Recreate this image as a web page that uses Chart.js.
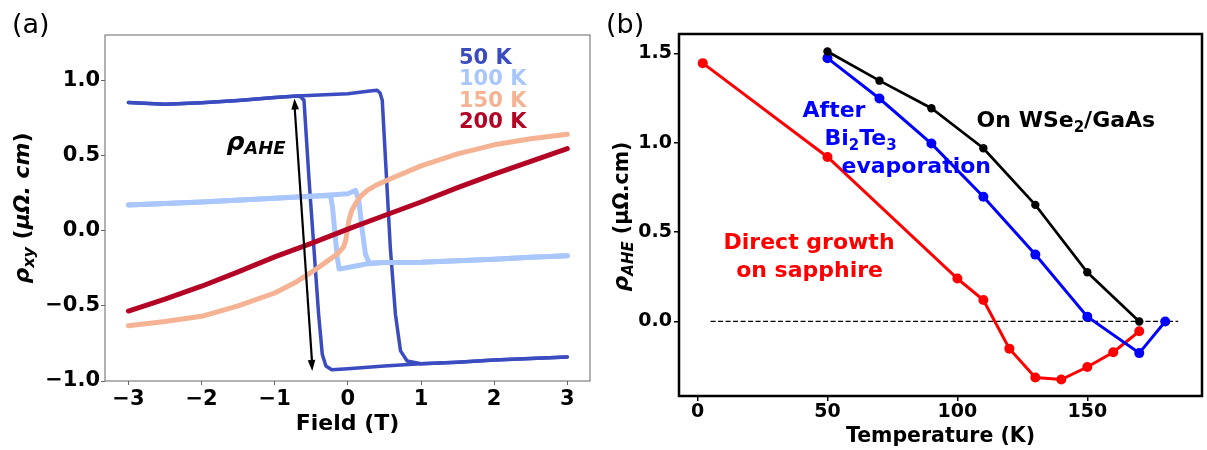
<!DOCTYPE html>
<html>
<head>
<meta charset="utf-8">
<script src="https://cdn.jsdelivr.net/npm/chart.js@4.4.1/dist/chart.umd.min.js"></script>
<style>
  html, body { margin: 0; padding: 0; background: #fff; }
  #wrap { position: relative; width: 1207px; height: 450px; overflow: hidden; }
  canvas { position: absolute; top: 0; }
</style>
</head>
<body>
<div id="wrap">
  <canvas id="hallChart" width="600" height="450" style="left:0px"></canvas>
  <canvas id="aheChart" width="607" height="450" style="left:600px"></canvas>
</div>
<script>
const FONT = 'DejaVu Sans';

// ---- (a) Hall loops, field in T, rho_xy in uOhm.cm ----
const field50Up = [-3, -2.5, -2, -1.5, -1, -0.7, 0, 0.3, 0.4, 0.44, 0.47, 0.53, 0.58, 0.65, 0.72, 0.81, 1, 1.5, 2, 2.5, 3];
const rho50Up   = [0.851, 0.84, 0.85, 0.865, 0.885, 0.895, 0.91, 0.928, 0.933, 0.915, 0.867, 0.333, -0.111, -0.556, -0.8, -0.867, -0.885, -0.875, -0.86, -0.85, -0.84];
const field50Down = [3, 2.5, 2, 1.5, 1, 0.5, 0, -0.22, -0.3, -0.35, -0.4, -0.465, -0.53, -0.6, -0.65, -0.69, -1, -1.5, -2, -2.5, -3];
const rho50Down   = [-0.84, -0.85, -0.86, -0.875, -0.885, -0.9, -0.918, -0.925, -0.9, -0.822, -0.556, -0.111, 0.333, 0.867, 0.89, 0.895, 0.885, 0.865, 0.85, 0.84, 0.851];

const field100Up = [-3, -2, -1, -0.5, 0, 0.105, 0.15, 0.197, 0.24, 0.29, 0.5, 1, 1.5, 2, 2.5, 3];
const rho100Up   = [0.17, 0.19, 0.215, 0.228, 0.245, 0.267, 0.2, 0.0, -0.156, -0.215, -0.213, -0.21, -0.2, -0.19, -0.178, -0.167];
const field100Down = [3, 2.5, 2, 1.5, 1, 0.5, 0.25, 0, -0.12, -0.145, -0.18, -0.21, -0.237, -0.3, -0.5, -1, -2, -3];
const rho100Down   = [-0.167, -0.178, -0.19, -0.2, -0.21, -0.213, -0.222, -0.245, -0.256, -0.178, 0.0, 0.156, 0.233, 0.232, 0.228, 0.215, 0.19, 0.17];

const field150 = [-3, -2.5, -2, -1.5, -1, -0.7, -0.465, -0.3, -0.145, -0.06, -0.03, 0.014, 0.05, 0.105, 0.17, 0.265, 0.4, 0.584, 1, 1.5, 2, 2.5, 3];
const rho150   = [-0.633, -0.605, -0.57, -0.5, -0.415, -0.34, -0.267, -0.21, -0.156, -0.11, -0.067, 0.067, 0.13, 0.178, 0.225, 0.267, 0.305, 0.344, 0.43, 0.51, 0.57, 0.61, 0.64];

const field200 = [-3, -2.5, -2, -1.5, -1, -0.5, 0, 0.5, 1, 1.5, 2, 2.5, 3];
const rho200   = [-0.535, -0.455, -0.37, -0.275, -0.175, -0.085, 0.01, 0.1, 0.19, 0.285, 0.375, 0.46, 0.545];

const loopLabels = ['50 K', '100 K', '150 K', '200 K'];
const loopColors = ['#3b4cc0', '#aac7fd', '#f5b394', '#b40426'];

const fieldTicks = [-3, -2, -1, 0, 1, 2, 3];
const rhoTicks = [-1.0, -0.5, 0.0, 0.5, 1.0];

// double arrow marking rho_AHE (field, rho)
const arrowField = [-0.73, -0.487];
const arrowRho = [0.878, -0.933];

// ---- (b) rho_AHE vs temperature ----
const tempWSe2 = [50, 70, 90, 110, 130, 150, 170];
const aheWSe2  = [1.51, 1.347, 1.193, 0.969, 0.652, 0.275, 0.0];
const tempAfter = [50, 70, 90, 110, 130, 150, 170, 180];
const aheAfter  = [1.473, 1.247, 0.995, 0.698, 0.374, 0.027, -0.177, 0.0];
const tempDirect = [2, 50, 100, 110, 120, 130, 140, 150, 160, 170];
const aheDirect  = [1.445, 0.92, 0.24, 0.12, -0.152, -0.314, -0.325, -0.255, -0.172, -0.055];
const zeroT = [5, 185];
const zeroV = [0, 0];

const tempTicks = [0, 50, 100, 150];
const aheTicks = [0.0, 0.5, 1.0, 1.5];

function pts(xs, ys) {
  return xs.map((x, i) => ({ x: x, y: ys[i] }));
}
function minus(s) {
  return String(s).replace('-', '\u2212');
}

function richWidth(ctx, parts) {
  let w = 0;
  parts.forEach(p => { ctx.font = p.font; w += ctx.measureText(p.text).width; });
  return w;
}
function drawRich(ctx, x, y, parts, color, align) {
  let cx = x;
  if (align === 'center') cx = x - richWidth(ctx, parts) / 2;
  ctx.fillStyle = color;
  ctx.textAlign = 'left';
  ctx.textBaseline = 'alphabetic';
  parts.forEach(p => {
    ctx.font = p.font;
    ctx.fillText(p.text, cx, y + (p.dy || 0));
    cx += ctx.measureText(p.text).width;
  });
}
function drawRotated(ctx, x, y, parts, color) {
  ctx.save();
  ctx.translate(x, y);
  ctx.rotate(-Math.PI / 2);
  drawRich(ctx, 0, 0, parts, color, 'center');
  ctx.restore();
}
function arrowHead(ctx, x0, y0, x1, y1, len, half) {
  const a = Math.atan2(y1 - y0, x1 - x0);
  ctx.beginPath();
  ctx.moveTo(x1, y1);
  ctx.lineTo(x1 - len * Math.cos(a) + half * Math.sin(a), y1 - len * Math.sin(a) - half * Math.cos(a));
  ctx.lineTo(x1 - len * Math.cos(a) - half * Math.sin(a), y1 - len * Math.sin(a) + half * Math.cos(a));
  ctx.closePath();
  ctx.fill();
}

function lineSet(xs, ys, color, width, order) {
  return {
    data: pts(xs, ys),
    showLine: true,
    borderColor: color,
    backgroundColor: color,
    borderWidth: width,
    pointRadius: 0,
    borderJoinStyle: 'round',
    borderCapStyle: 'round',
    order: order
  };
}

function fixedTicks(list) {
  return (scale) => { scale.ticks = list.map(v => ({ value: v })); };
}

const B = 'bold ';
const BI = 'italic bold ';

// ---------------- panel (a) ----------------
const hallDecor = {
  id: 'hallDecor',
  afterDraw(chart) {
    const ctx = chart.ctx;
    const area = chart.chartArea;
    const xs = chart.scales.x, ys = chart.scales.y;
    ctx.save();
    // frame
    ctx.strokeStyle = '#666';
    ctx.lineWidth = 1;
    ctx.strokeRect(area.left, area.top, area.right - area.left, area.bottom - area.top);

    // arrow
    const ax0 = xs.getPixelForValue(arrowField[0]), ay0 = ys.getPixelForValue(arrowRho[0]);
    const ax1 = xs.getPixelForValue(arrowField[1]), ay1 = ys.getPixelForValue(arrowRho[1]);
    ctx.strokeStyle = '#000';
    ctx.fillStyle = '#000';
    ctx.lineWidth = 2.2;
    ctx.beginPath();
    ctx.moveTo(ax0, ay0 + 6);
    ctx.lineTo(ax1, ay1 - 6);
    ctx.stroke();
    arrowHead(ctx, ax1, ay1, ax0, ay0, 11, 3.8);
    arrowHead(ctx, ax0, ay0, ax1, ay1, 11, 3.8);

    // rho_AHE label
    drawRich(ctx, xs.getPixelForValue(-1.66), ys.getPixelForValue(0.533), [
      { text: '\u03c1', font: BI + '25px ' + FONT },
      { text: 'AHE', font: BI + '18px ' + FONT, dy: 4 }
    ], '#000');

    // text legend
    loopLabels.forEach((lab, i) => {
      ctx.font = B + '21px ' + FONT;
      ctx.fillStyle = loopColors[i];
      ctx.textAlign = 'left';
      ctx.textBaseline = 'alphabetic';
      ctx.fillText(lab, area.right - 131, area.top + 29 + i * 21.3);
    });

    // axis titles
    drawRich(ctx, (area.left + area.right) / 2, area.bottom + 49, [
      { text: 'Field (T)', font: B + '22px ' + FONT }
    ], '#000', 'center');
    drawRotated(ctx, 28.5, (area.top + area.bottom) / 2, [
      { text: '\u03c1', font: BI + '22px ' + FONT },
      { text: 'xy', font: BI + '16px ' + FONT, dy: 5 },
      { text: ' (', font: B + '22px ' + FONT },
      { text: '\u03bc\u03a9. cm', font: BI + '22px ' + FONT },
      { text: ')', font: B + '22px ' + FONT }
    ], '#000');

    // panel tag
    ctx.font = '27px ' + FONT;
    ctx.fillStyle = '#000';
    ctx.textAlign = 'left';
    ctx.fillText('(a)', 12, 33);
    ctx.restore();
  }
};

new Chart(document.getElementById('hallChart'), {
  type: 'scatter',
  data: {
    datasets: [
      lineSet(field50Up, rho50Up, loopColors[0], 3.5, 8),
      lineSet(field50Down, rho50Down, loopColors[0], 3.5, 7),
      lineSet(field100Up, rho100Up, loopColors[1], 5, 6),
      lineSet(field100Down, rho100Down, loopColors[1], 5, 5),
      lineSet(field150, rho150, loopColors[2], 5, 4),
      lineSet(field200, rho200, loopColors[3], 5, 3)
    ]
  },
  options: {
    responsive: false,
    animation: false,
    devicePixelRatio: 1,
    layout: { padding: { left: 0, top: 35, right: 10, bottom: 0 } },
    plugins: { legend: { display: false }, tooltip: { enabled: false } },
    scales: {
      x: {
        type: 'linear', min: -3.32, max: 3.31,
        afterBuildTicks: fixedTicks(fieldTicks),
        afterFit: (s) => { s.height = 69; },
        border: { display: false },
        grid: { drawOnChartArea: false, drawTicks: true, tickLength: 4, color: '#666' },
        ticks: {
          padding: 1.5, color: '#000',
          font: { family: FONT, size: 21, weight: 'bold' },
          callback: (v) => minus(v.toFixed(0))
        }
      },
      y: {
        type: 'linear', min: -1.0, max: 1.3,
        afterBuildTicks: fixedTicks(rhoTicks),
        afterFit: (s) => { s.width = 105; },
        border: { display: false },
        grid: { drawOnChartArea: false, drawTicks: true, tickLength: 4, color: '#666' },
        ticks: {
          padding: 1, color: '#000',
          font: { family: FONT, size: 21, weight: 'bold' },
          callback: (v) => minus(v.toFixed(1))
        }
      }
    }
  },
  plugins: [hallDecor]
});

// ---------------- panel (b) ----------------
const aheDecor = {
  id: 'aheDecor',
  afterDraw(chart) {
    const ctx = chart.ctx;
    const area = chart.chartArea;
    const xs = chart.scales.x, ys = chart.scales.y;
    const px = (t) => xs.getPixelForValue(t);
    const py = (v) => ys.getPixelForValue(v);
    ctx.save();
    ctx.strokeStyle = '#000';
    ctx.lineWidth = 2.5;
    ctx.strokeRect(area.left, area.top, area.right - area.left, area.bottom - area.top);

    const f = B + '22px ' + FONT;
    const fs = B + '15px ' + FONT;
    drawRich(ctx, px(40.4), py(1.146), [{ text: 'After', font: f }], '#0000ff');
    drawRich(ctx, px(48.85), py(0.988), [
      { text: 'Bi', font: f }, { text: '2', font: fs, dy: 5 },
      { text: 'Te', font: f }, { text: '3', font: fs, dy: 5 }
    ], '#0000ff');
    drawRich(ctx, px(55.4), py(0.829), [{ text: 'evaporation', font: f }], '#0000ff');
    drawRich(ctx, px(107.4), py(1.087), [
      { text: 'On WSe', font: f }, { text: '2', font: fs, dy: 5 },
      { text: '/GaAs', font: f }
    ], '#000');
    drawRich(ctx, px(42.9), py(0.406), [{ text: 'Direct growth', font: f }], '#ff0000', 'center');
    drawRich(ctx, px(43.1), py(0.251), [{ text: 'on sapphire', font: f }], '#ff0000', 'center');

    drawRich(ctx, (area.left + area.right) / 2, area.bottom + 46, [
      { text: 'Temperature (K)', font: B + '20.5px ' + FONT }
    ], '#000', 'center');
    drawRotated(ctx, 27.5, (area.top + area.bottom) / 2 + 1.5, [
      { text: '\u03c1', font: BI + '22px ' + FONT },
      { text: 'AHE', font: BI + '15px ' + FONT, dy: 5 },
      { text: ' (\u03bc\u03a9.cm)', font: B + '20.5px ' + FONT }
    ], '#000');

    ctx.font = '27px ' + FONT;
    ctx.fillStyle = '#000';
    ctx.textAlign = 'left';
    ctx.fillText('(b)', 6, 33);
    ctx.restore();
  }
};

function markSet(xs, ys, color, width, radius, order) {
  return {
    data: pts(xs, ys),
    showLine: true,
    borderColor: color,
    backgroundColor: color,
    pointBackgroundColor: color,
    pointBorderColor: color,
    borderWidth: width,
    pointRadius: radius,
    pointBorderWidth: 0,
    order: order
  };
}

new Chart(document.getElementById('aheChart'), {
  type: 'scatter',
  data: {
    datasets: [
      {
        data: pts(zeroT, zeroV), showLine: true, borderColor: '#000', borderWidth: 1.3,
        borderDash: [5, 2.5], pointRadius: 0, order: 5
      },
      markSet(tempDirect, aheDirect, '#ff0000', 3, 5, 4),
      markSet(tempAfter, aheAfter, '#0000ff', 3, 5, 3),
      markSet(tempWSe2, aheWSe2, '#000000', 2.7, 4.2, 2)
    ]
  },
  options: {
    responsive: false,
    animation: false,
    devicePixelRatio: 1,
    layout: { padding: { left: 0, top: 34, right: 2, bottom: 0 } },
    plugins: { legend: { display: false }, tooltip: { enabled: false } },
    scales: {
      x: {
        type: 'linear', min: -7.15, max: 194.15,
        afterBuildTicks: fixedTicks(tempTicks),
        afterFit: (s) => { s.height = 54; },
        border: { display: false },
        grid: { drawOnChartArea: false, drawTicks: true, tickLength: 5, color: '#000', lineWidth: 1.5 },
        ticks: {
          padding: 0, color: '#000',
          font: { family: FONT, size: 19, weight: 'bold' },
          callback: (v) => v.toFixed(0)
        }
      },
      y: {
        type: 'linear', min: -0.417, max: 1.608,
        afterBuildTicks: fixedTicks(aheTicks),
        afterFit: (s) => { s.width = 79; },
        border: { display: false },
        grid: { drawOnChartArea: false, drawTicks: true, tickLength: 5, color: '#000', lineWidth: 1.5 },
        ticks: {
          padding: 2, color: '#000',
          font: { family: FONT, size: 19, weight: 'bold' },
          callback: (v) => v.toFixed(1)
        }
      }
    }
  },
  plugins: [aheDecor]
});
</script>
</body>
</html>
